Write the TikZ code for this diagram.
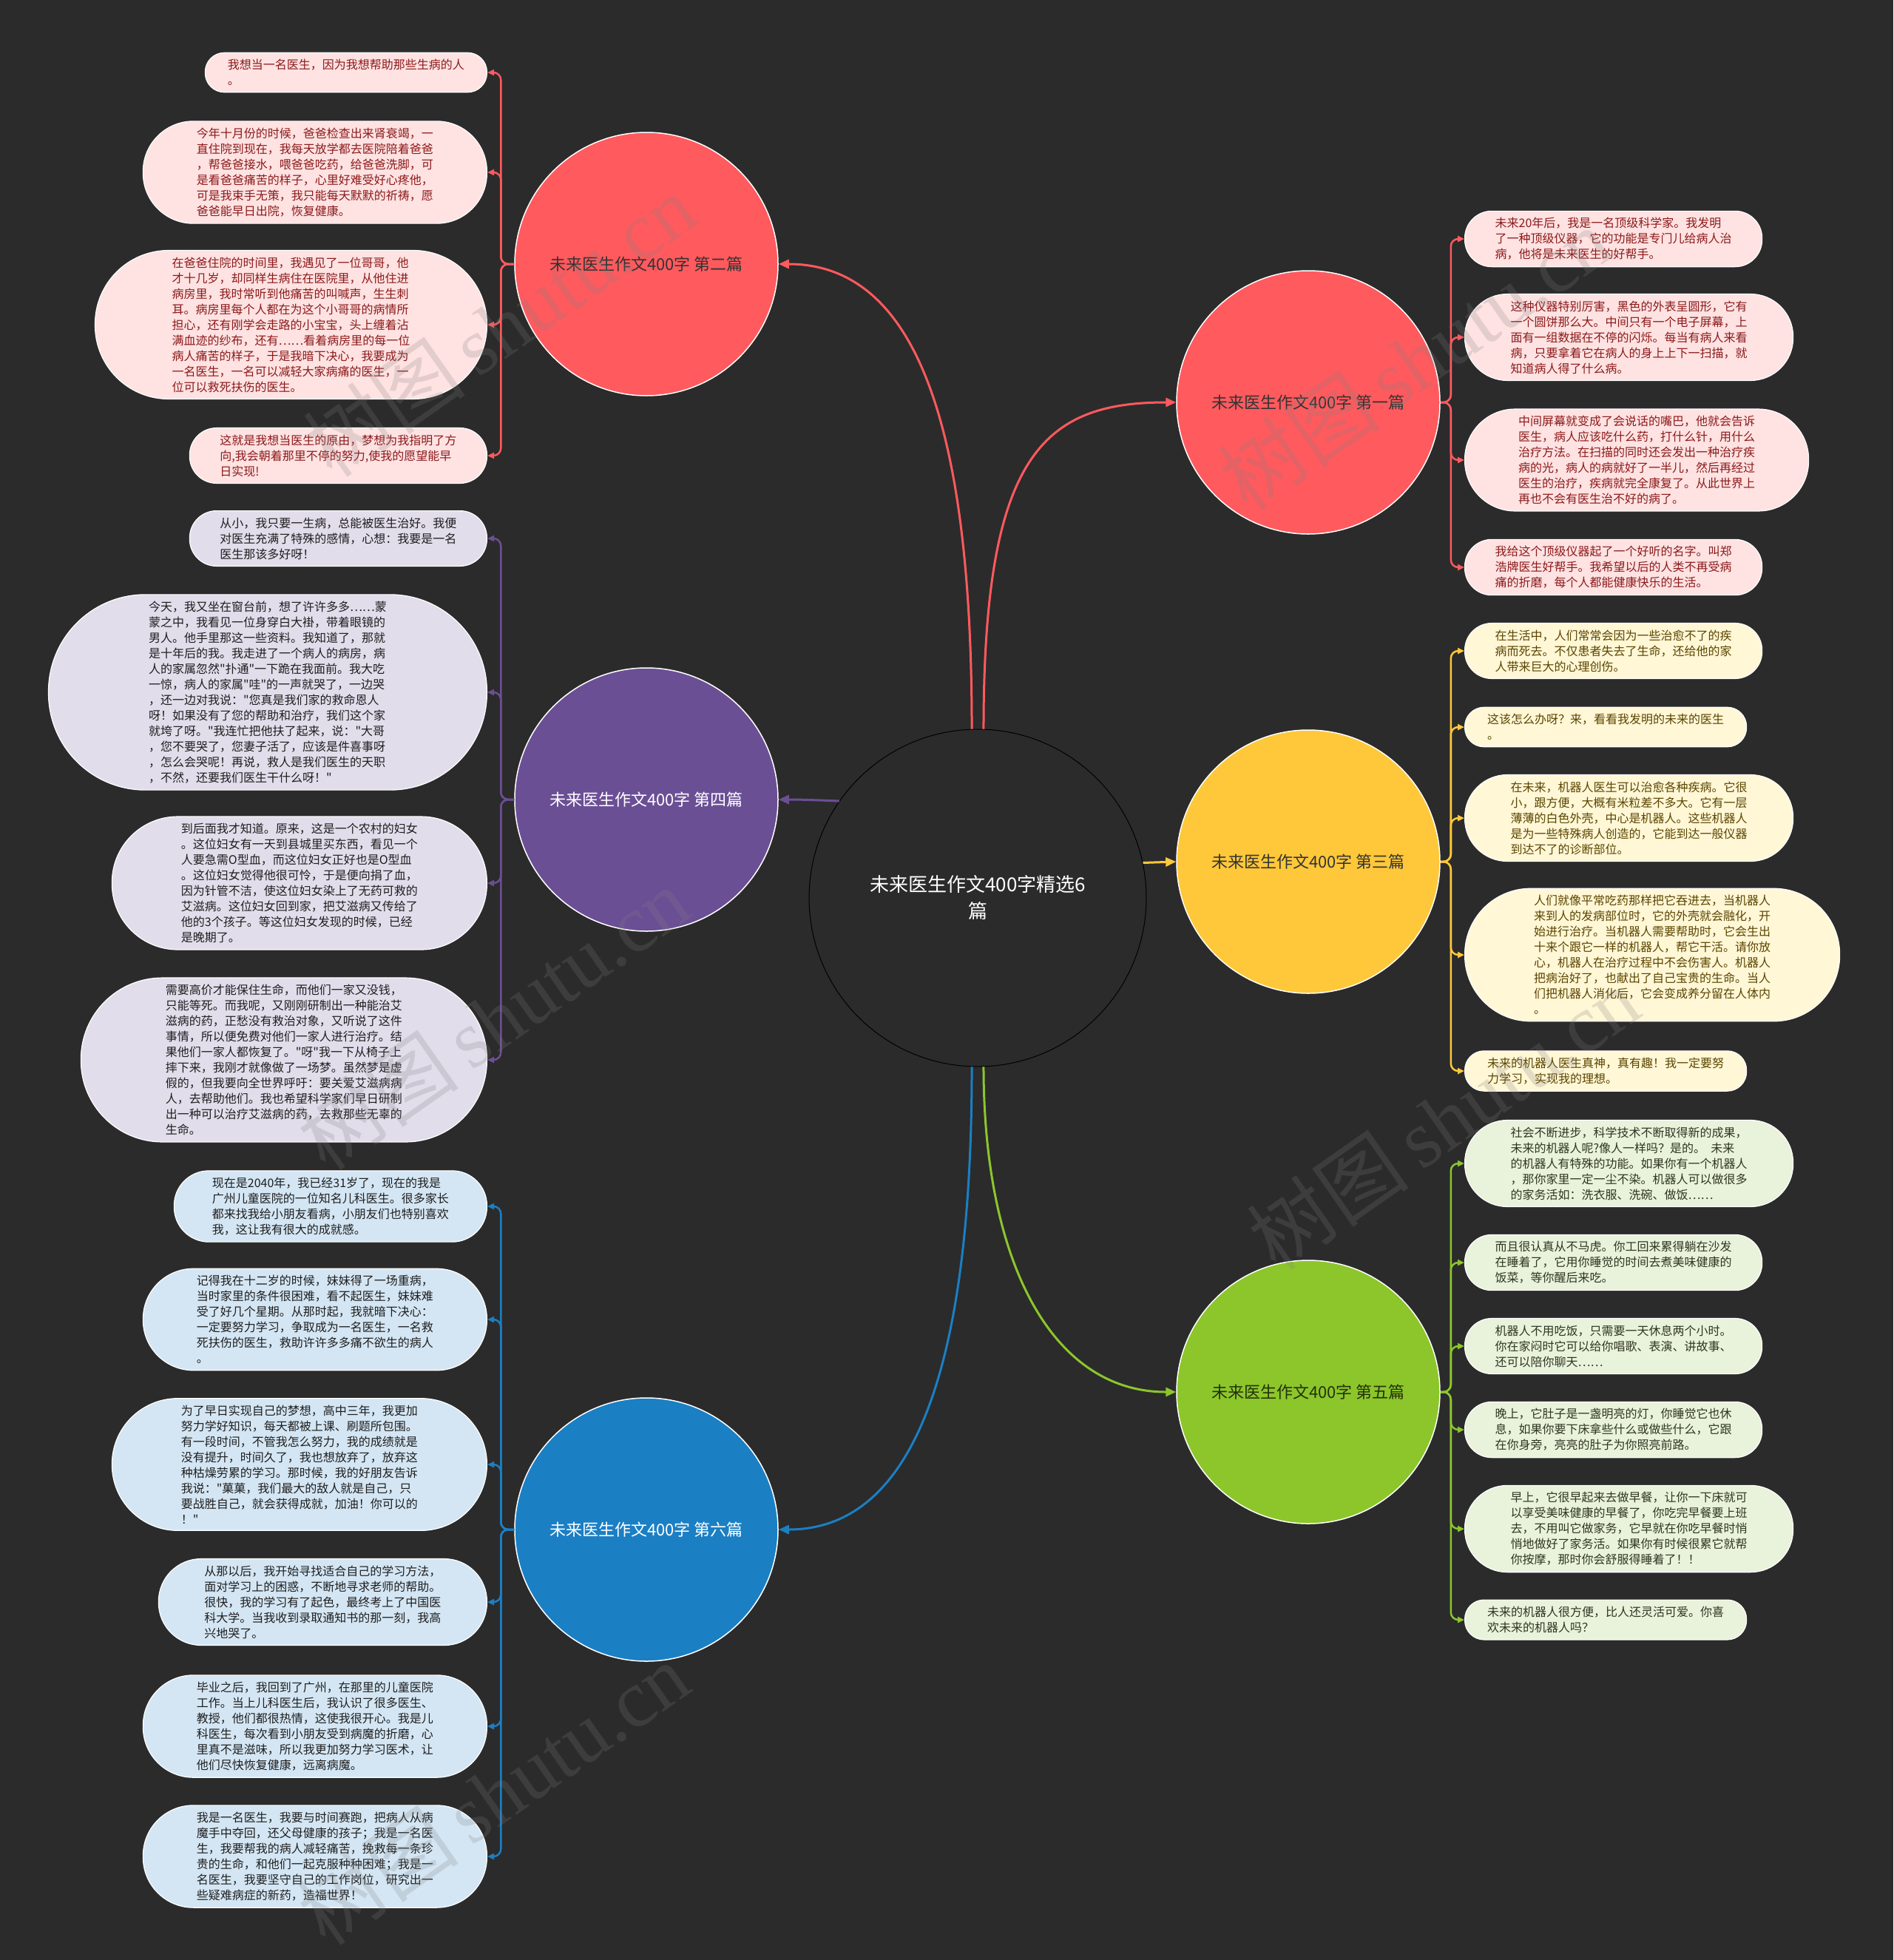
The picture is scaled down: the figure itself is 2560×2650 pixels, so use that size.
\documentclass[tikz,border=0pt]{standalone}
\usepackage{fontspec}
\newfontfamily\cjk{Noto Sans CJK SC}
\newfontfamily\wmserif{Liberation Serif}
\usetikzlibrary{arrows.meta,shapes.misc,calc}
\definecolor{bg}{HTML}{2B2B2B}
\definecolor{cRed}{HTML}{FF5A5E}
\definecolor{cPur}{HTML}{6B4F95}
\definecolor{cYel}{HTML}{FFC83A}
\definecolor{cGrn}{HTML}{8CC62B}
\definecolor{cBlu}{HTML}{1B7FC4}
\definecolor{fPink}{HTML}{FFE2E2}
\definecolor{tPink}{HTML}{8B1A1A}
\definecolor{fLav}{HTML}{E2DDEB}
\definecolor{fBlu}{HTML}{D4E6F4}
\definecolor{fCre}{HTML}{FFF7D6}
\definecolor{tCre}{HTML}{5B4400}
\definecolor{fGrn}{HTML}{E9F2DA}
\definecolor{tGrn}{HTML}{2E3524}
\definecolor{tDark}{HTML}{1E1E1E}
\tikzset{
  leafbox/.style={rectangle, draw=white, line width=1.2pt, inner ysep=9pt,
    inner xsep={(13+21*#1)/2+3}, rounded corners={(10+21*#1)/2},
    align=left, font=\cjk\fontsize{16}{21}\selectfont},
  pinkleaf/.style={leafbox=#1, fill=fPink, text=tPink},
  lavleaf/.style={leafbox=#1, fill=fLav, text=tDark},
  bluleaf/.style={leafbox=#1, fill=fBlu, text=tDark},
  creleaf/.style={leafbox=#1, fill=fCre, text=tCre},
  grnleaf/.style={leafbox=#1, fill=fGrn, text=tGrn},
  topic/.style={circle, minimum size=356pt, inner sep=0pt, draw=white, line width=1.5pt,
    font=\cjk\fontsize{22}{26}\selectfont},
  rootnode/.style={circle, minimum size=456pt, inner sep=0pt, draw=black, line width=1pt, fill=bg,
    text=white, align=center, font=\cjk\fontsize{26}{36}\selectfont},
  mainlink/.style={draw=#1, line width=3pt, -{Triangle[length=14pt,width=12pt]}},
  leaflink/.style={draw=#1, line width=2.5pt, rounded corners=10pt, -{Triangle[length=9pt,width=8pt]}},
  wmark/.style={text=gray, opacity=0.22, rotate=35, font=\fontsize{110}{110}\selectfont}
}
\begin{document}
\begin{tikzpicture}[x=1pt,y=-1pt]
\fill[bg] (0,0) rectangle (2560,2650);
\useasboundingbox (0,0) rectangle (2560,2650);

% root and topics
\node[rootnode] (ctr) at (1322,1214) {未来医生作文400字精选6\\篇};
\node[topic, fill=cRed, text=black!80] (m2) at (874,357) {未来医生作文400字 第二篇};
\node[topic, fill=cRed, text=black!80] (m1) at (1769,544) {未来医生作文400字 第一篇};
\node[topic, fill=cPur, text=white] (m4) at (874,1081) {未来医生作文400字 第四篇};
\node[topic, fill=cYel, text=black!80] (m3) at (1769,1165) {未来医生作文400字 第三篇};
\node[topic, fill=cGrn, text=black!75!cGrn] (m5) at (1769,1882) {未来医生作文400字 第五篇};
\node[topic, fill=cBlu, text=white] (m6) at (874,2068) {未来医生作文400字 第六篇};

% main links
\draw[mainlink=cRed] (ctr.92) .. controls +(0,-400) and +(190,0) .. (m2.east);
\draw[mainlink=cRed] (ctr.88) .. controls +(0,-370) and +(-180,0) .. (m1.west);
\draw[mainlink=cPur] (ctr.145) to[out=178,in=0] (m4.east);
\draw[mainlink=cYel] (ctr.12) -- (m3.west);
\draw[mainlink=cGrn] (ctr.272) .. controls +(0,260) and +(-170,0) .. (m5.west);
\draw[mainlink=cBlu] (ctr.268) .. controls +(0,360) and +(200,0) .. (m6.east);

% left leaves: 第二篇
\node[pinkleaf=2, anchor=east] (L2a) at (659,98) {我想当一名医生，因为我想帮助那些生病的人\\。};
\node[pinkleaf=6, anchor=east] (L2b) at (659,233) {今年十月份的时候，爸爸检查出来肾衰竭，一\\直住院到现在，我每天放学都去医院陪着爸爸\\，帮爸爸接水，喂爸爸吃药，给爸爸洗脚，可\\是看爸爸痛苦的样子，心里好难受好心疼他，\\可是我束手无策，我只能每天默默的祈祷，愿\\爸爸能早日出院，恢复健康。};
\node[pinkleaf=9, anchor=east] (L2c) at (659,439) {在爸爸住院的时间里，我遇见了一位哥哥，他\\才十几岁，却同样生病住在医院里，从他住进\\病房里，我时常听到他痛苦的叫喊声，生生刺\\耳。病房里每个人都在为这个小哥哥的病情所\\担心，还有刚学会走路的小宝宝，头上缠着沾\\满血迹的纱布，还有……看着病房里的每一位\\病人痛苦的样子，于是我暗下决心，我要成为\\一名医生，一名可以减轻大家病痛的医生，一\\位可以救死扶伤的医生。};
\node[pinkleaf=3, anchor=east] (L2d) at (659,616) {这就是我想当医生的原由，梦想为我指明了方\\向,我会朝着那里不停的努力,使我的愿望能早\\日实现!};

% 第四篇
\node[lavleaf=3, anchor=east] (L4a) at (659,728) {从小，我只要一生病，总能被医生治好。我便\\对医生充满了特殊的感情，心想：我要是一名\\医生那该多好呀！};
\node[lavleaf=12, anchor=east] (L4b) at (659,936) {今天，我又坐在窗台前，想了许许多多……蒙\\蒙之中，我看见一位身穿白大褂，带着眼镜的\\男人。他手里那这一些资料。我知道了，那就\\是十年后的我。我走进了一个病人的病房，病\\人的家属忽然"扑通"一下跪在我面前。我大吃\\一惊，病人的家属"哇"的一声就哭了，一边哭\\，还一边对我说："您真是我们家的救命恩人\\呀！如果没有了您的帮助和治疗，我们这个家\\就垮了呀。"我连忙把他扶了起来，说："大哥\\，您不要哭了，您妻子活了，应该是件喜事呀\\，怎么会哭呢！再说，救人是我们医生的天职\\，不然，还要我们医生干什么呀！"};
\node[lavleaf=8, anchor=east] (L4c) at (659,1194) {到后面我才知道。原来，这是一个农村的妇女\\。这位妇女有一天到县城里买东西，看见一个\\人要急需O型血，而这位妇女正好也是O型血\\。这位妇女觉得他很可怜，于是便向捐了血，\\因为针管不洁，使这位妇女染上了无药可救的\\艾滋病。这位妇女回到家，把艾滋病又传给了\\他的3个孩子。等这位妇女发现的时候，已经\\是晚期了。};
\node[lavleaf=10, anchor=east] (L4d) at (659,1433) {需要高价才能保住生命，而他们一家又没钱，\\只能等死。而我呢，又刚刚研制出一种能治艾\\滋病的药，正愁没有救治对象，又听说了这件\\事情，所以便免费对他们一家人进行治疗。结\\果他们一家人都恢复了。"呀"我一下从椅子上\\摔下来，我刚才就像做了一场梦。虽然梦是虚\\假的，但我要向全世界呼吁：要关爱艾滋病病\\人，去帮助他们。我也希望科学家们早日研制\\出一种可以治疗艾滋病的药，去救那些无辜的\\生命。};

% 第六篇
\node[bluleaf=4, anchor=east] (L6a) at (659,1631) {现在是2040年，我已经31岁了，现在的我是\\广州儿童医院的一位知名儿科医生。很多家长\\都来找我给小朋友看病，小朋友们也特别喜欢\\我，这让我有很大的成就感。};
\node[bluleaf=6, anchor=east] (L6b) at (659,1784) {记得我在十二岁的时候，妹妹得了一场重病，\\当时家里的条件很困难，看不起医生，妹妹难\\受了好几个星期。从那时起，我就暗下决心：\\一定要努力学习，争取成为一名医生，一名救\\死扶伤的医生，救助许许多多痛不欲生的病人\\。};
\node[bluleaf=8, anchor=east] (L6c) at (659,1980) {为了早日实现自己的梦想，高中三年，我更加\\努力学好知识，每天都被上课、刷题所包围。\\有一段时间，不管我怎么努力，我的成绩就是\\没有提升，时间久了，我也想放弃了，放弃这\\种枯燥劳累的学习。那时候，我的好朋友告诉\\我说："菓菓，我们最大的敌人就是自己，只\\要战胜自己，就会获得成就，加油！你可以的\\！"};
\node[bluleaf=5, anchor=east] (L6d) at (659,2166) {从那以后，我开始寻找适合自己的学习方法，\\面对学习上的困惑，不断地寻求老师的帮助。\\很快，我的学习有了起色，最终考上了中国医\\科大学。当我收到录取通知书的那一刻，我高\\兴地哭了。};
\node[bluleaf=6, anchor=east] (L6e) at (659,2334) {毕业之后，我回到了广州，在那里的儿童医院\\工作。当上儿科医生后，我认识了很多医生、\\教授，他们都很热情，这使我很开心。我是儿\\科医生，每次看到小朋友受到病魔的折磨，心\\里真不是滋味，所以我更加努力学习医术，让\\他们尽快恢复健康，远离病魔。};
\node[bluleaf=6, anchor=east] (L6f) at (659,2510) {我是一名医生，我要与时间赛跑，把病人从病\\魔手中夺回，还父母健康的孩子；我是一名医\\生，我要帮我的病人减轻痛苦，挽救每一条珍\\贵的生命，和他们一起克服种种困难；我是一\\名医生，我要坚守自己的工作岗位，研究出一\\些疑难病症的新药，造福世界！};

% right leaves: 第一篇
\node[pinkleaf=3, anchor=west] (R1a) at (1980,323) {未来20年后，我是一名顶级科学家。我发明\\了一种顶级仪器，它的功能是专门儿给病人治\\病，他将是未来医生的好帮手。};
\node[pinkleaf=5, anchor=west] (R1b) at (1980,456) {这种仪器特别厉害，黑色的外表呈圆形，它有\\一个圆饼那么大。中间只有一个电子屏幕，上\\面有一组数据在不停的闪烁。每当有病人来看\\病，只要拿着它在病人的身上上下一扫描，就\\知道病人得了什么病。};
\node[pinkleaf=6, anchor=west] (R1c) at (1980,622) {中间屏幕就变成了会说话的嘴巴，他就会告诉\\医生，病人应该吃什么药，打什么针，用什么\\治疗方法。在扫描的同时还会发出一种治疗疾\\病的光，病人的病就好了一半儿，然后再经过\\医生的治疗，疾病就完全康复了。从此世界上\\再也不会有医生治不好的病了。};
\node[pinkleaf=3, anchor=west] (R1d) at (1980,767) {我给这个顶级仪器起了一个好听的名字。叫郑\\浩牌医生好帮手。我希望以后的人类不再受病\\痛的折磨，每个人都能健康快乐的生活。};

% 第三篇
\node[creleaf=3, anchor=west] (R3a) at (1980,880) {在生活中，人们常常会因为一些治愈不了的疾\\病而死去。不仅患者失去了生命，还给他的家\\人带来巨大的心理创伤。};
\node[creleaf=2, anchor=west] (R3b) at (1980,983) {这该怎么办呀？来，看看我发明的未来的医生\\。};
\node[creleaf=5, anchor=west] (R3c) at (1980,1106) {在未来，机器人医生可以治愈各种疾病。它很\\小，跟方便，大概有米粒差不多大。它有一层\\薄薄的白色外壳，中心是机器人。这些机器人\\是为一些特殊病人创造的，它能到达一般仪器\\到达不了的诊断部位。};
\node[creleaf=8, anchor=west] (R3d) at (1980,1291) {人们就像平常吃药那样把它吞进去，当机器人\\来到人的发病部位时，它的外壳就会融化，开\\始进行治疗。当机器人需要帮助时，它会生出\\十来个跟它一样的机器人，帮它干活。请你放\\心，机器人在治疗过程中不会伤害人。机器人\\把病治好了，也献出了自己宝贵的生命。当人\\们把机器人消化后，它会变成养分留在人体内\\。};
\node[creleaf=2, anchor=west] (R3e) at (1980,1448) {未来的机器人医生真神，真有趣！我一定要努\\力学习，实现我的理想。};

% 第五篇
\node[grnleaf=5, anchor=west] (R5a) at (1980,1573) {社会不断进步，科学技术不断取得新的成果，\\未来的机器人呢?像人一样吗？是的。\ \ 未来\\的机器人有特殊的功能。如果你有一个机器人\\，那你家里一定一尘不染。机器人可以做很多\\的家务活如：洗衣服、洗碗、做饭……};
\node[grnleaf=3, anchor=west] (R5b) at (1980,1707) {而且很认真从不马虎。你工回来累得躺在沙发\\在睡着了，它用你睡觉的时间去煮美味健康的\\饭菜，等你醒后来吃。};
\node[grnleaf=3, anchor=west] (R5c) at (1980,1820) {机器人不用吃饭，只需要一天休息两个小时。\\你在家闷时它可以给你唱歌、表演、讲故事、\\还可以陪你聊天……};
\node[grnleaf=3, anchor=west] (R5d) at (1980,1933) {晚上，它肚子是一盏明亮的灯，你睡觉它也休\\息，如果你要下床拿些什么或做些什么，它跟\\在你身旁，亮亮的肚子为你照亮前路。};
\node[grnleaf=5, anchor=west] (R5e) at (1980,2067) {早上，它很早起来去做早餐，让你一下床就可\\以享受美味健康的早餐了，你吃完早餐要上班\\去，不用叫它做家务，它早就在你吃早餐时悄\\悄地做好了家务活。如果你有时候很累它就帮\\你按摩，那时你会舒服得睡着了！！};
\node[grnleaf=2, anchor=west] (R5f) at (1980,2190) {未来的机器人很方便，比人还灵活可爱。你喜\\欢未来的机器人吗？};

% bracket points
\coordinate (a2) at ($(m2.west)+(-18,0)$);
\coordinate (a4) at ($(m4.west)+(-18,0)$);
\coordinate (a6) at ($(m6.west)+(-18,0)$);
\coordinate (b1) at ($(m1.east)+(14,0)$);
\coordinate (b3) at ($(m3.east)+(14,0)$);
\coordinate (b5) at ($(m5.east)+(14,0)$);

% leaf links
\foreach \l in {L2a,L2b,L2c,L2d} \draw[leaflink=cRed] (m2.west) -- (a2) |- (\l.east);
\foreach \l in {L4a,L4b,L4c,L4d} \draw[leaflink=cPur] (m4.west) -- (a4) |- (\l.east);
\foreach \l in {L6a,L6b,L6c,L6d,L6e,L6f} \draw[leaflink=cBlu] (m6.west) -- (a6) |- (\l.east);
\foreach \l in {R1a,R1b,R1c,R1d} \draw[leaflink=cRed] (m1.east) -- (b1) |- (\l.west);
\foreach \l in {R3a,R3b,R3c,R3d,R3e} \draw[leaflink=cYel] (m3.east) -- (b3) |- (\l.west);
\foreach \l in {R5a,R5b,R5c,R5d,R5e,R5f} \draw[leaflink=cGrn] (m5.east) -- (b5) |- (\l.west);

% watermarks
\node[wmark] (w1) at (676,440) {\cjk 树图\,\wmserif shutu.cn};
\node[wmark] (w2) at (1913,485) {\cjk 树图\,\wmserif shutu.cn};
\node[wmark] (w3) at (667,1377) {\cjk 树图\,\wmserif shutu.cn};
\node[wmark] (w4) at (1952,1512) {\cjk 树图\,\wmserif shutu.cn};
\node[wmark] (w5) at (667,2425) {\cjk 树图\,\wmserif shutu.cn};
\end{tikzpicture}
\end{document}
